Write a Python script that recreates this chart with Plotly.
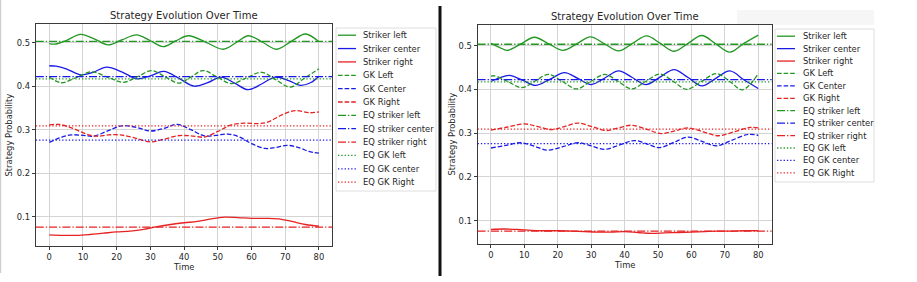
import plotly.graph_objects as go

# ---------------- data ----------------
TIME_TICKS = [0, 10, 20, 30, 40, 50, 60, 70, 80]
PROB_TICKS = [0.1, 0.2, 0.3, 0.4, 0.5]
PROB_TICK_LABELS = ["0.1", "0.2", "0.3", "0.4", "0.5"]

LEGEND_NAMES = ["Striker left", "Striker center", "Striker right",
                "GK Left", "GK Center", "GK Right",
                "EQ striker left", "EQ striker center", "EQ striker right",
                "EQ GK left", "EQ GK center", "EQ GK Right"]

# equilibrium levels (same in both panels)
eq_striker = [0.503, 0.422, 0.076]   # left, center, right
eq_gk = [0.417, 0.276, 0.309]        # left, center, right

# ---- left panel ----
L_sl_t = [0, 2, 5, 9.3, 13.5, 17.5, 21.7, 25.9, 29.9, 33.8, 37.5, 41.3, 46.5, 51.6, 55.4, 59.1, 63.3, 67.5, 71.8, 76, 80]
L_sl_v = [0.498, 0.497, 0.505, 0.519, 0.508, 0.495, 0.507, 0.518, 0.505, 0.491, 0.504, 0.516, 0.501, 0.485, 0.500, 0.516, 0.501, 0.485, 0.503, 0.520, 0.502]

L_sc_t = [0, 2, 5, 9.5, 13, 17, 21.5, 26, 30, 34, 38.5, 43, 47, 51, 55, 59, 63, 67, 71, 74.5, 77.5, 80]
L_sc_v = [0.447, 0.446, 0.440, 0.426, 0.432, 0.444, 0.433, 0.417, 0.424, 0.434, 0.418, 0.400, 0.408, 0.421, 0.407, 0.392, 0.405, 0.421, 0.413, 0.402, 0.408, 0.423]

L_sr_t = [0, 4, 8, 12, 16, 20, 24, 28, 32, 36, 40, 44, 48, 52, 56, 60, 64, 68, 72, 76, 80]
L_sr_v = [0.058, 0.057, 0.057, 0.059, 0.062, 0.065, 0.067, 0.071, 0.077, 0.082, 0.086, 0.089, 0.095, 0.099, 0.098, 0.096, 0.096, 0.095, 0.089, 0.082, 0.078]

L_gl_t = [0, 3.5, 8, 12.5, 17.2, 22, 26.2, 30.4, 34.5, 38.5, 42, 45.6, 49.8, 54, 58.5, 63, 67.2, 71.5, 75.8, 80]
L_gl_v = [0.421, 0.408, 0.420, 0.433, 0.421, 0.409, 0.422, 0.436, 0.421, 0.407, 0.421, 0.436, 0.421, 0.406, 0.419, 0.432, 0.415, 0.398, 0.419, 0.440]

L_gc_t = [0, 3, 6.5, 10, 13, 17, 21.5, 26, 30, 34, 38, 42, 46, 49.5, 53, 56.5, 60, 64, 67, 70.5, 74, 77, 80]
L_gc_v = [0.271, 0.281, 0.288, 0.287, 0.285, 0.296, 0.309, 0.305, 0.297, 0.303, 0.312, 0.300, 0.286, 0.287, 0.290, 0.283, 0.268, 0.257, 0.259, 0.264, 0.259, 0.250, 0.246]

L_gr_t = [0, 3, 7, 11, 14, 17.5, 21, 25, 30, 34, 38, 42, 46, 50, 54, 58, 62, 65, 69, 73, 77, 80]
L_gr_v = [0.311, 0.312, 0.303, 0.290, 0.285, 0.288, 0.288, 0.282, 0.272, 0.278, 0.286, 0.286, 0.283, 0.296, 0.311, 0.315, 0.314, 0.318, 0.334, 0.344, 0.339, 0.341]

# ---- right panel ----
R_sl_t = [0, 2.5, 4.9, 9, 13, 17.3, 21.6, 25.7, 29.8, 34, 38.2, 42.4, 46.6, 50.7, 54.8, 59, 63.1, 67.3, 71.5, 75.7, 80]
R_sl_v = [0.505, 0.496, 0.489, 0.504, 0.519, 0.504, 0.489, 0.504, 0.520, 0.504, 0.488, 0.505, 0.522, 0.505, 0.487, 0.505, 0.523, 0.504, 0.485, 0.505, 0.524]

R_sc_t = [0, 2.5, 5.5, 9.4, 13.3, 17.6, 22, 26, 30, 34.1, 38.2, 42.3, 46.4, 50.6, 54.8, 59, 63.1, 67.3, 71.5, 75.7, 80]
R_sc_v = [0.418, 0.426, 0.432, 0.421, 0.409, 0.423, 0.438, 0.425, 0.411, 0.426, 0.442, 0.427, 0.411, 0.428, 0.445, 0.427, 0.408, 0.425, 0.442, 0.422, 0.402]

R_sr_t = [0, 4, 8, 12, 16, 20, 24, 28, 32, 36, 40, 44, 48, 52, 56, 60, 64, 68, 72, 76, 80]
R_sr_v = [0.080, 0.081, 0.080, 0.078, 0.077, 0.077, 0.076, 0.075, 0.074, 0.074, 0.075, 0.073, 0.071, 0.072, 0.073, 0.074, 0.075, 0.076, 0.076, 0.077, 0.077]

R_gl_t = [0, 1, 5, 9.2, 13.2, 17.2, 21.4, 25.6, 29.8, 34.1, 38.1, 42.1, 46.3, 50.6, 54.6, 58.6, 63, 67.5, 71.5, 75.3, 80]
R_gl_v = [0.430, 0.431, 0.418, 0.404, 0.419, 0.434, 0.418, 0.401, 0.418, 0.434, 0.418, 0.401, 0.418, 0.435, 0.418, 0.400, 0.418, 0.436, 0.418, 0.399, 0.436]

R_gc_t = [0, 4.5, 9, 13, 17, 21.5, 26, 30, 34, 38.5, 43, 46.8, 50.5, 54.8, 59, 63.2, 67.5, 72.2, 77, 80]
R_gc_v = [0.266, 0.272, 0.278, 0.270, 0.261, 0.269, 0.278, 0.271, 0.263, 0.273, 0.283, 0.275, 0.267, 0.279, 0.291, 0.281, 0.271, 0.284, 0.297, 0.295]

R_gr_t = [0, 5, 10, 14, 18, 22, 26, 30.2, 34.5, 38.2, 42, 46.5, 51, 55, 59, 63.5, 68, 72.8, 77.5, 80]
R_gr_v = [0.307, 0.314, 0.321, 0.315, 0.308, 0.315, 0.323, 0.315, 0.306, 0.312, 0.318, 0.309, 0.299, 0.305, 0.312, 0.303, 0.294, 0.303, 0.313, 0.312]

# ---------------- styling ----------------
W, H = 917, 282
GREEN, BLUE, RED = "#229722", "#1a1ae6", "#e62222"
COLORS = [GREEN, BLUE, RED]
LW = 1.3
DASH_SOLID = "solid"
DASH_DASHED = "4.6px,2px"
DASH_DASHDOT = "8px,2px,1.3px,2px"
DASH_DOTTED = "1.3px,2px"
FONT = "DejaVu Sans"
TXT = "#262626"


def px(x):
    return x / W


def py(y):
    return 1 - y / H


panels = [
    dict(xa="x", ya="y", xdom=(35.8, 332.4), ydom=(246, 24), yr=[0.0326, 0.543],
         series=[(L_sl_t, L_sl_v), (L_sc_t, L_sc_v), (L_sr_t, L_sr_v)],
         gk=[(L_gl_t, L_gl_v), (L_gc_t, L_gc_v), (L_gr_t, L_gr_v)],
         legend=dict(x0=336, x1=436, y0=28, y1=191, row0=35.2, step=13.36, hx0=338, hx1=356, tx=361),
         title_y=16, xlab_y=266.5, ylab_x=8.5),
    dict(xa="x2", ya="y2", xdom=(477.6, 771.6), ydom=(244, 25), yr=[0.0467, 0.547],
         series=[(R_sl_t, R_sl_v), (R_sc_t, R_sc_v), (R_sr_t, R_sr_v)],
         gk=[(R_gl_t, R_gl_v), (R_gc_t, R_gc_v), (R_gr_t, R_gr_v)],
         legend=dict(x0=775, x1=874, y0=29, y1=182, row0=36.2, step=12.42, hx0=777, hx1=795, tx=801),
         title_y=16.5, xlab_y=265, ylab_x=451),
]

fig = go.Figure()
shapes = []
annotations = []

for p in panels:
    for (t, v), c, nm in zip(p["series"], COLORS, LEGEND_NAMES[0:3]):
        fig.add_trace(go.Scatter(x=t, y=v, xaxis=p["xa"], yaxis=p["ya"], mode="lines",
                                 line=dict(color=c, width=LW, dash=DASH_SOLID, shape="spline", smoothing=1.0),
                                 name=nm, showlegend=False, hoverinfo="skip"))
    for (t, v), c, nm in zip(p["gk"], COLORS, LEGEND_NAMES[3:6]):
        fig.add_trace(go.Scatter(x=t, y=v, xaxis=p["xa"], yaxis=p["ya"], mode="lines",
                                 line=dict(color=c, width=LW, dash=DASH_DASHED, shape="spline", smoothing=1.0),
                                 name=nm, showlegend=False, hoverinfo="skip"))
    # equilibrium reference lines spanning the axes
    for val, c in zip(eq_striker, COLORS):
        shapes.append(dict(type="line", xref=p["xa"] + " domain", x0=0, x1=1, yref=p["ya"], y0=val, y1=val,
                           line=dict(color=c, width=LW, dash=DASH_DASHDOT), layer="above"))
    for val, c in zip(eq_gk, COLORS):
        shapes.append(dict(type="line", xref=p["xa"] + " domain", x0=0, x1=1, yref=p["ya"], y0=val, y1=val,
                           line=dict(color=c, width=LW, dash=DASH_DOTTED), layer="above"))

    # titles
    cx = (p["xdom"][0] + p["xdom"][1]) / 2
    cy = (p["ydom"][0] + p["ydom"][1]) / 2
    annotations.append(dict(text="Strategy Evolution Over Time", xref="paper", yref="paper",
                            x=px(cx), y=py(p["title_y"]), xanchor="center", yanchor="middle",
                            showarrow=False, font=dict(size=10, color=TXT, family=FONT)))
    annotations.append(dict(text="Time", xref="paper", yref="paper",
                            x=px(cx), y=py(p["xlab_y"]), xanchor="center", yanchor="middle",
                            showarrow=False, font=dict(size=8.4, color=TXT, family=FONT)))
    annotations.append(dict(text="Strategy Probability", xref="paper", yref="paper", textangle=-90,
                            x=px(p["ylab_x"]), y=py(cy), xanchor="center", yanchor="middle",
                            showarrow=False, font=dict(size=8.4, color=TXT, family=FONT)))

    # legend box (matplotlib style)
    lg = p["legend"]
    shapes.append(dict(type="rect", xref="paper", yref="paper", x0=px(lg["x0"]), x1=px(lg["x1"]),
                       y0=py(lg["y1"]), y1=py(lg["y0"]), line=dict(color="#d6d6d6", width=0.8),
                       fillcolor="rgba(255,255,255,0.85)", layer="above"))
    dashes = [DASH_SOLID] * 3 + [DASH_DASHED] * 3 + [DASH_DASHDOT] * 3 + [DASH_DOTTED] * 3
    for i, nm in enumerate(LEGEND_NAMES):
        yy = lg["row0"] + i * lg["step"]
        shapes.append(dict(type="line", xref="paper", yref="paper", x0=px(lg["hx0"]), x1=px(lg["hx1"]),
                           y0=py(yy), y1=py(yy), line=dict(color=COLORS[i % 3], width=LW, dash=dashes[i]),
                           layer="above"))
        annotations.append(dict(text=nm, xref="paper", yref="paper", x=px(lg["tx"]), y=py(yy),
                                xanchor="left", yanchor="middle", showarrow=False,
                                font=dict(size=8.4, color=TXT, family=FONT)))

# faint left border line and the black separator bar from the screenshot
shapes.append(dict(type="line", xref="paper", yref="paper", x0=px(0.7), x1=px(0.7), y0=py(273), y1=py(0),
                   line=dict(color="#c4c4c4", width=1)))
shapes.append(dict(type="line", xref="paper", yref="paper", x0=px(440), x1=px(440), y0=py(276), y1=py(6),
                   line=dict(color="#111111", width=3)))
# faint toolbar strip in the right panel
shapes.append(dict(type="rect", xref="paper", yref="paper", x0=px(737), x1=px(874), y0=py(25), y1=py(10),
                   line=dict(width=0), fillcolor="#f6f6f6", layer="below"))


def axis_common():
    return dict(showgrid=True, gridcolor="#d4d4d4", gridwidth=1, zeroline=False,
                showline=True, linecolor="#3a3a3a", linewidth=1, mirror=True,
                ticks="outside", ticklen=3, tickwidth=0.8, tickcolor="#3a3a3a",
                tickfont=dict(size=8.4, color=TXT, family=FONT), fixedrange=True)


layout = dict(width=W, height=H, autosize=False, margin=dict(l=0, r=0, t=0, b=0, pad=0),
              paper_bgcolor="white", plot_bgcolor="white", showlegend=False,
              shapes=shapes, annotations=annotations)
for i, p in enumerate(panels):
    sx = "" if i == 0 else "2"
    xa = axis_common()
    xa.update(domain=[px(p["xdom"][0]), px(p["xdom"][1])], range=[-4, 84],
              tickmode="array", tickvals=TIME_TICKS, anchor="y" + sx)
    ya = axis_common()
    ya.update(domain=[py(p["ydom"][0]), py(p["ydom"][1])], range=p["yr"],
              tickmode="array", tickvals=PROB_TICKS, ticktext=PROB_TICK_LABELS, anchor="x" + sx)
    layout["xaxis" + sx] = xa
    layout["yaxis" + sx] = ya

fig.update_layout(**layout)
# remove the browser's default page margin so the figure sits at the window origin; hide the modebar
fig.write_html("out.html", config={"displayModeBar": False},
               post_script="document.body.style.margin='0px';document.body.style.overflow='hidden';")
